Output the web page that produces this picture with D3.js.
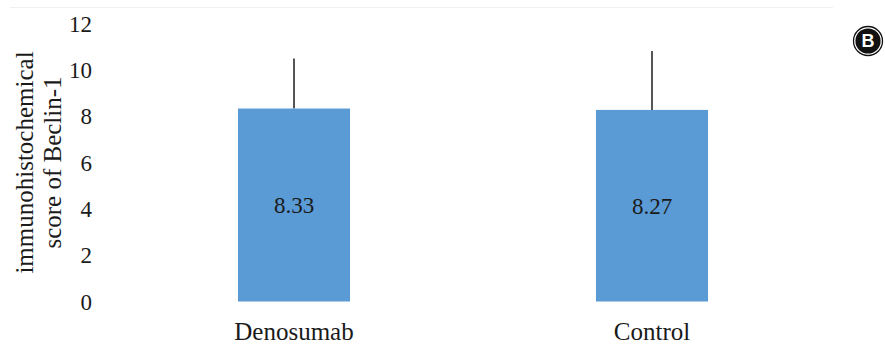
<!DOCTYPE html>
<html>
<head>
<meta charset="utf-8">
<script src="https://cdn.jsdelivr.net/npm/d3@7/dist/d3.min.js"></script>
<style>
  html, body { margin: 0; padding: 0; background: #fff; }
  svg { display: block; }
  text { font-family: "Liberation Serif", "Times New Roman", serif; fill: #1a1a1a; }
</style>
</head>
<body>
<svg id="chart" width="885" height="344"></svg>
<script>
// Beclin-1 immunohistochemical scores by group
const categories = ["Denosumab", "Control"];
const means = [8.33, 8.27];
const sds = [2.16, 2.54];
const yTicks = [0, 2, 4, 6, 8, 10, 12];

const svg = d3.select("#chart");
const plot = { left: 115, right: 831, top: 23.5, bottom: 301.5 };
const serif = "Liberation Serif, Times New Roman, serif";

const x = d3.scaleBand()
  .domain(categories)
  .range([plot.left, plot.right])
  .paddingInner(0.687)
  .paddingOuter(0.3435);

const y = d3.scaleLinear()
  .domain([0, 12])
  .range([plot.bottom, plot.top]);

// faint frame line along the top of the chart area
svg.append("line")
  .attr("x1", 10).attr("x2", 833)
  .attr("y1", 7.5).attr("y2", 7.5)
  .attr("stroke", "#efefef").attr("stroke-width", 1);

// y axis: labels only
const yAxis = d3.axisLeft(y).tickValues(yTicks).tickSize(0).tickPadding(0);
const gy = svg.append("g")
  .attr("transform", "translate(92,0)")
  .call(yAxis)
  .attr("font-family", serif);
gy.select(".domain").remove();
gy.selectAll("text")
  .attr("font-size", 23)
  .attr("fill", "#1a1a1a")
  .attr("dy", "0.34em");

// x axis: category labels only
const xAxis = d3.axisBottom(x).tickSize(0).tickPadding(0);
const gx = svg.append("g")
  .attr("transform", "translate(0,340)")
  .call(xAxis)
  .attr("font-family", serif);
gx.select(".domain").remove();
gx.selectAll("text")
  .attr("font-size", 25)
  .attr("fill", "#1a1a1a")
  .attr("dy", 0);

// error bars (upper half, drawn first so bars sit on top)
svg.append("g").selectAll("line")
  .data(categories)
  .join("line")
  .attr("x1", d => x(d) + x.bandwidth() / 2)
  .attr("x2", d => x(d) + x.bandwidth() / 2)
  .attr("y1", (d, i) => y(means[i]))
  .attr("y2", (d, i) => y(means[i] + sds[i]))
  .attr("stroke", "#555555")
  .attr("stroke-width", 2);

// bars
svg.append("g").selectAll("rect")
  .data(categories)
  .join("rect")
  .attr("x", d => x(d))
  .attr("width", x.bandwidth())
  .attr("y", (d, i) => y(means[i]))
  .attr("height", (d, i) => y(0) - y(means[i]))
  .attr("fill", "#5b9bd5");

// value labels centred in the bars
svg.append("g").selectAll("text")
  .data(categories)
  .join("text")
  .attr("x", d => x(d) + x.bandwidth() / 2)
  .attr("y", (d, i) => (y(means[i]) + y(0)) / 2)
  .attr("dy", "0.34em")
  .attr("text-anchor", "middle")
  .attr("font-size", 23)
  .text((d, i) => means[i].toFixed(2));

// y axis title (two lines)
const title = svg.append("text")
  .attr("transform", `translate(33,${(plot.top + plot.bottom) / 2}) rotate(-90)`)
  .attr("text-anchor", "middle")
  .attr("font-size", 25);
title.append("tspan").attr("x", 0).attr("dy", 0).text("immunohistochemical");
title.append("tspan").attr("x", 0).attr("dy", 28).text("score of Beclin-1");

// panel badge
const badge = svg.append("g").attr("transform", "translate(868,41)");
badge.append("circle").attr("r", 14.5).attr("fill", "#fff").attr("stroke", "#111").attr("stroke-width", 1.3);
badge.append("circle").attr("r", 12.6).attr("fill", "#111");
badge.append("text")
  .attr("text-anchor", "middle")
  .attr("dy", "0.36em")
  .attr("font-family", "Liberation Sans, Arial, sans-serif")
  .attr("font-size", 18)
  .attr("font-weight", "bold")
  .style("font-family", "'Liberation Sans', Arial, sans-serif")
  .style("fill", "#fff")
  .text("B");
</script>
</body>
</html>
